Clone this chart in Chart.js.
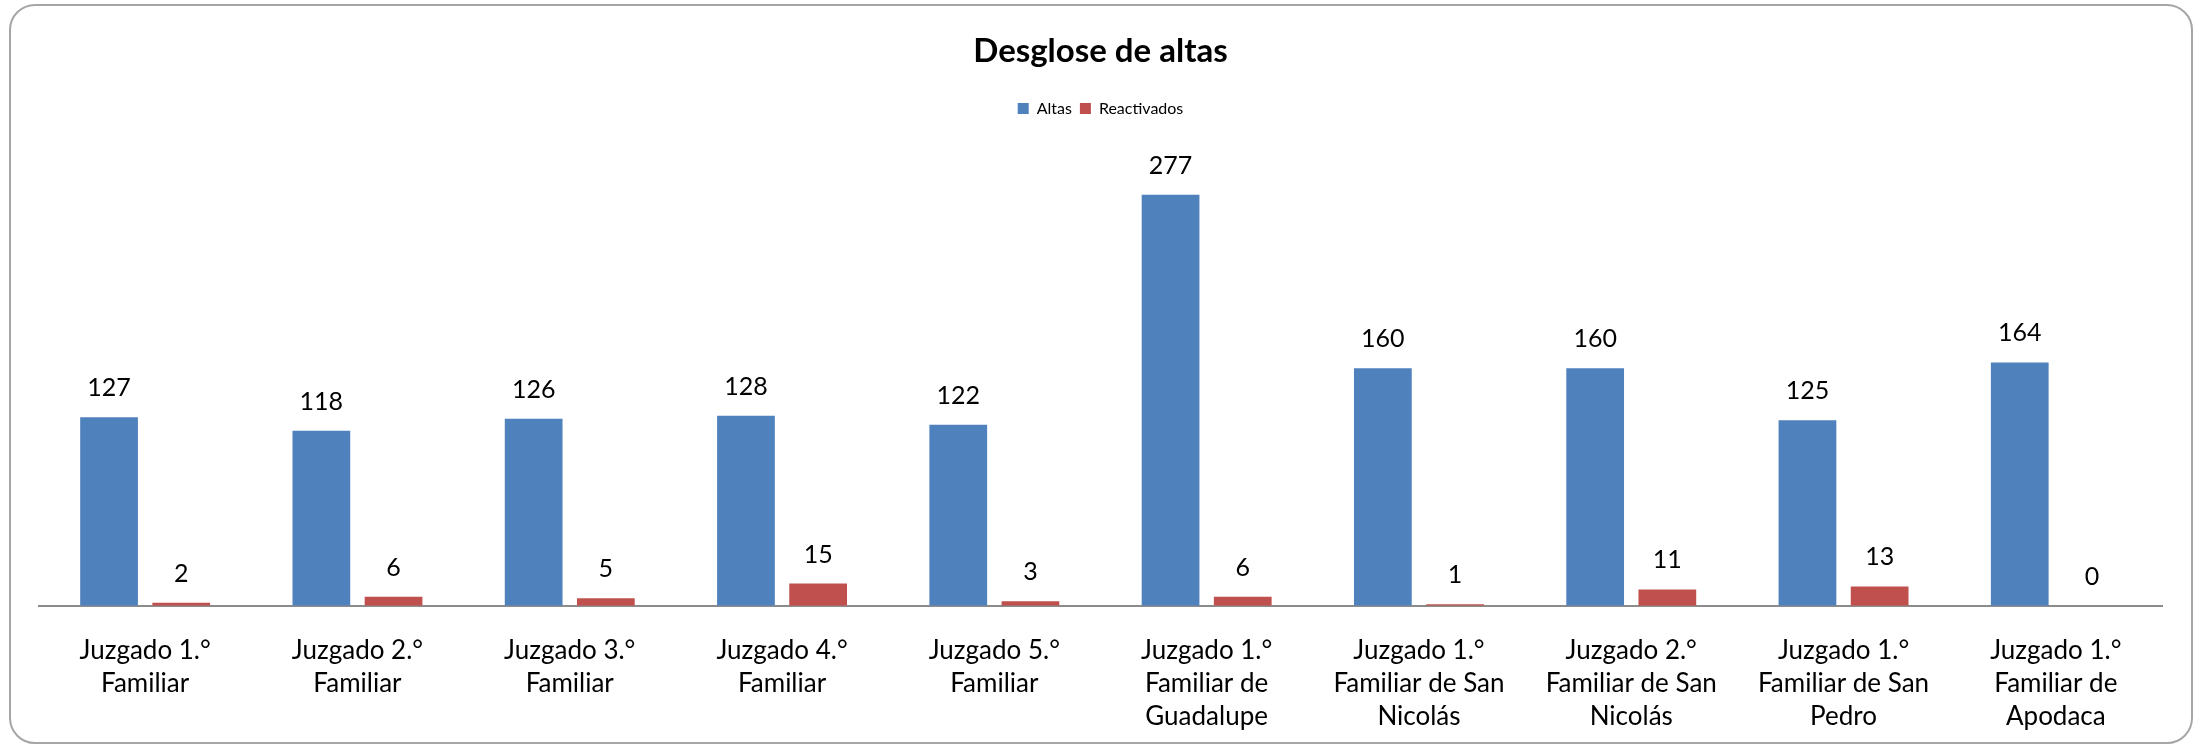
<!DOCTYPE html>
<html>
<head>
<meta charset="utf-8">
<script src="https://cdn.jsdelivr.net/npm/chart.js@4/dist/chart.umd.min.js"></script>
<style>
  html, body { margin: 0; padding: 0; background: #fff; }
  #frame {
    position: absolute; left: 9px; top: 4px; width: 2180px; height: 736px;
    border: 2px solid #a6a6a6; border-radius: 26px;
  }
  #wrap { position: absolute; left: 0; top: 0; width: 2201px; height: 746px; }
</style>
</head>
<body>
<div id="frame"></div>
<div id="wrap"><canvas id="chart"></canvas></div>
<script>
// Datos
const categories = [
    ['Juzgado 1.°', 'Familiar'],
    ['Juzgado 2.°', 'Familiar'],
    ['Juzgado 3.°', 'Familiar'],
    ['Juzgado 4.°', 'Familiar'],
    ['Juzgado 5.°', 'Familiar'],
    ['Juzgado 1.°', 'Familiar de', 'Guadalupe'],
    ['Juzgado 1.°', 'Familiar de San', 'Nicolás'],
    ['Juzgado 2.°', 'Familiar de San', 'Nicolás'],
    ['Juzgado 1.°', 'Familiar de San', 'Pedro'],
    ['Juzgado 1.°', 'Familiar de', 'Apodaca']
];
const altas = [127, 118, 126, 128, 122, 277, 160, 160, 125, 164];
const reactivados = [2, 6, 5, 15, 3, 6, 1, 11, 13, 0];

const FONT = 'Lato, "Open Sans", sans-serif';

// Etiquetas de valor encima de cada barra
const valueLabels = {
    id: 'valueLabels',
    afterDatasetsDraw(chart) {
        const { ctx } = chart;
        ctx.save();
        ctx.fillStyle = '#000';
        ctx.font = '25px ' + FONT;
        ctx.textAlign = 'center';
        ctx.textBaseline = 'middle';
        chart.data.datasets.forEach((ds, i) => {
            chart.getDatasetMeta(i).data.forEach((bar, j) => {
                ctx.fillText(String(ds.data[j]), bar.x, bar.y - 29);
            });
        });
        ctx.restore();
    }
};

// Espacio extra debajo de la leyenda
const legendGap = {
    id: 'legendGap',
    beforeInit(chart) {
        const fit = chart.legend.fit;
        chart.legend.fit = function () {
            fit.call(this);
            this.height += 34;
        };
    }
};

const ctx = document.getElementById('chart').getContext('2d');
new Chart(ctx, {
    type: 'bar',
    data: {
        labels: categories,
        datasets: [
            { label: 'Altas', data: altas, backgroundColor: '#4F81BD' },
            { label: 'Reactivados', data: reactivados, backgroundColor: '#C0504D' }
        ]
    },
    options: {
        responsive: true,
        maintainAspectRatio: false,
        animation: false,
        categoryPercentage: 0.68,
        barPercentage: 0.8,
        layout: { padding: { left: 39, right: 39, top: 24, bottom: -16 } },
        plugins: {
            title: {
                display: true,
                text: 'Desglose de altas',
                color: '#000',
                font: { family: FONT, size: 33, weight: 'bold' },
                padding: { top: 8, bottom: 21 }
            },
            legend: {
                display: true,
                labels: {
                    color: '#000',
                    font: { family: FONT, size: 16 },
                    boxWidth: 11,
                    boxHeight: 11,
                    padding: 8
                }
            },
            tooltip: { enabled: false }
        },
        scales: {
            x: {
                grid: { display: false, drawTicks: false },
                border: { display: true, color: '#8c8c8c', width: 2 },
                ticks: {
                    color: '#000',
                    font: { family: FONT, size: 26, lineHeight: 1.26 },
                    maxRotation: 0,
                    autoSkip: false,
                    padding: 29
                }
            },
            y: {
                display: false,
                min: 0,
                max: 300
            }
        }
    },
    plugins: [valueLabels, legendGap]
});
</script>
</body>
</html>
